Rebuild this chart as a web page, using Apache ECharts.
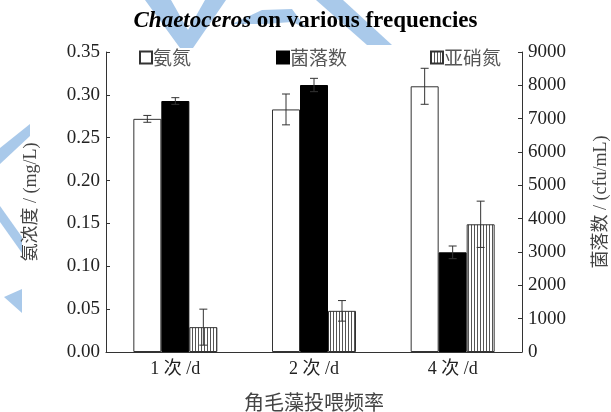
<!DOCTYPE html>
<html>
<head>
<meta charset="utf-8">
<script src="https://cdn.jsdelivr.net/npm/echarts@6/dist/echarts.min.js"></script>
<style>html,body{margin:0;padding:0;background:#fff;}#c{width:611px;height:412px;}</style>
</head>
<body>
<div id="c"></div>
<script>
var categories = ['1 次 /d', '2 次 /d', '4 次 /d'];
var ammonia = [0.272, 0.283, 0.310];
var ammoniaErr = [0.004, 0.018, 0.021];
var colonies = [7530, 8010, 2990];
var coloniesErr = [100, 200, 190];
var nitrite = [0.029, 0.048, 0.149];
var nitriteErr = [0.021, 0.012, 0.027];
var leftTicks = { min: 0, max: 0.35, interval: 0.05 };
var rightTicks = { min: 0, max: 9000, interval: 1000 };

var SERIF = "'Liberation Serif', 'Noto Sans CJK SC', serif";
var CJK = "'Noto Sans CJK SC', 'Liberation Serif', sans-serif";
var BAR_W = 28;

var pc = document.createElement('canvas');
pc.width = 3; pc.height = 8;
var ctx = pc.getContext('2d');
ctx.fillStyle = '#fff'; ctx.fillRect(0, 0, 3, 8);
ctx.fillStyle = '#555'; ctx.fillRect(0, 0, 1, 8);
var stripe = { image: pc, repeat: 'repeat' };

function errSeries(vals, errs, axisIdx, slot) {
  return {
    type: 'custom', yAxisIndex: axisIdx, z: 10, silent: true,
    data: categories.map(function (c, i) { return [i, vals[i], errs[i]]; }),
    renderItem: function (params, api) {
      var i = api.value(0), v = api.value(1), e = api.value(2);
      var top = api.coord([i, v + e]);
      var bot = api.coord([i, v - e]);
      var x = top[0] + (slot - 1) * BAR_W;
      var cap = 4;
      var st = { stroke: '#333', lineWidth: 1 };
      return {
        type: 'group', children: [
          { type: 'line', shape: { x1: x, y1: top[1], x2: x, y2: bot[1] }, style: st },
          { type: 'line', shape: { x1: x - cap, y1: top[1], x2: x + cap, y2: top[1] }, style: st },
          { type: 'line', shape: { x1: x - cap, y1: bot[1], x2: x + cap, y2: bot[1] }, style: st }
        ]
      };
    }
  };
}

var blue = '#a9c9ea';
var legendText = { fontFamily: CJK, fontSize: 19, color: '#555', padding: [0, 0, 0, -4] };
var chart = echarts.init(document.getElementById('c'));
chart.setOption({
  animation: false,
  backgroundColor: '#fff',
  graphic: [
    { type: 'polygon', z: -10, silent: true, shape: { points: [[145,0],[171,0],[188,30],[205,0],[226,0],[193,48],[180,48]] }, style: { fill: blue } },
    { type: 'polygon', z: -10, silent: true, shape: { points: [[232,24],[262,10],[292,9],[306,28],[292,22],[264,24]] }, style: { fill: blue } },
    { type: 'polygon', z: -10, silent: true, shape: { points: [[316,0],[343,0],[392,45],[367,45]] }, style: { fill: blue } },
    { type: 'polygon', z: -10, silent: true, shape: { points: [[0,148],[30,124],[30,136],[0,164]] }, style: { fill: blue } },
    { type: 'polygon', z: -10, silent: true, shape: { points: [[0,206],[0,222],[22,253],[22,237]] }, style: { fill: blue } },
    { type: 'polygon', z: -10, silent: true, shape: { points: [[4,297],[22,289],[22,313]] }, style: { fill: blue } }
  ],
  title: {
    left: 'center', top: 5,
    text: '{a|Chaetoceros}{b| on various frequencies}',
    textStyle: {
      rich: {
        a: { fontFamily: SERIF, fontSize: 23, fontWeight: 'bold', fontStyle: 'italic', color: '#000' },
        b: { fontFamily: SERIF, fontSize: 23, fontWeight: 'bold', color: '#000' }
      }
    }
  },
  legend: [
    { data: ['氨氮'], left: 134, top: 43, itemWidth: 12, itemHeight: 12, selectedMode: false, icon: 'rect', textStyle: legendText },
    { data: ['菌落数'], left: 271, top: 43, itemWidth: 12, itemHeight: 12, selectedMode: false, icon: 'rect', textStyle: legendText },
    { data: ['亚硝氮'], left: 425, top: 43, itemWidth: 12, itemHeight: 12, selectedMode: false, icon: 'rect', textStyle: legendText }
  ],
  grid: { left: 106, right: 89, top: 52, bottom: 60, containLabel: false, outerBoundsMode: 'none' },
  xAxis: {
    type: 'category', data: categories,
    axisLine: { lineStyle: { color: '#333', width: 1 } },
    axisTick: { show: false },
    axisLabel: { fontFamily: SERIF, fontSize: 18, color: '#222', margin: 8 },
    name: '角毛藻投喂频率', nameLocation: 'middle', nameGap: 40,
    nameTextStyle: { fontFamily: CJK, fontSize: 20, color: '#444' }
  },
  yAxis: [
    {
      type: 'value', min: leftTicks.min, max: leftTicks.max, interval: leftTicks.interval,
      splitLine: { show: false },
      axisLine: { show: true, lineStyle: { color: '#333' } },
      axisTick: { show: true, inside: true, length: 4, lineStyle: { color: '#333' } },
      axisLabel: { fontFamily: SERIF, fontSize: 19, color: '#222', margin: 6, formatter: function (v) { return v.toFixed(2); } },
      name: '氨浓度 / (mg/L)', nameLocation: 'middle', nameGap: 66, nameRotate: 90,
      nameTextStyle: { fontFamily: SERIF, fontSize: 18, color: '#444' }
    },
    {
      type: 'value', min: rightTicks.min, max: rightTicks.max, interval: rightTicks.interval,
      position: 'right',
      splitLine: { show: false },
      axisLine: { show: true, lineStyle: { color: '#333' } },
      axisTick: { show: true, inside: true, length: 4, lineStyle: { color: '#333' } },
      axisLabel: { fontFamily: SERIF, fontSize: 19, color: '#222', margin: 6, formatter: function (v) { return String(v); } },
      name: '菌落数 / (cfu/mL)', nameLocation: 'middle', nameGap: 70, nameRotate: 90,
      nameTextStyle: { fontFamily: SERIF, fontSize: 18, color: '#444' }
    }
  ],
  series: [
    { name: '氨氮', type: 'bar', yAxisIndex: 0, data: ammonia, barWidth: BAR_W, barGap: '0%',
      itemStyle: { color: '#fff', borderColor: '#333', borderWidth: 1 } },
    { name: '菌落数', type: 'bar', yAxisIndex: 1, data: colonies, barWidth: BAR_W, barGap: '0%',
      itemStyle: { color: '#000', borderColor: '#000', borderWidth: 1 } },
    { name: '亚硝氮', type: 'bar', yAxisIndex: 0, data: nitrite, barWidth: BAR_W, barGap: '0%',
      itemStyle: { color: stripe, borderColor: '#333', borderWidth: 1 } },
    errSeries(ammonia, ammoniaErr, 0, 0),
    errSeries(colonies, coloniesErr, 1, 1),
    errSeries(nitrite, nitriteErr, 0, 2)
  ]
});
</script>
</body>
</html>
